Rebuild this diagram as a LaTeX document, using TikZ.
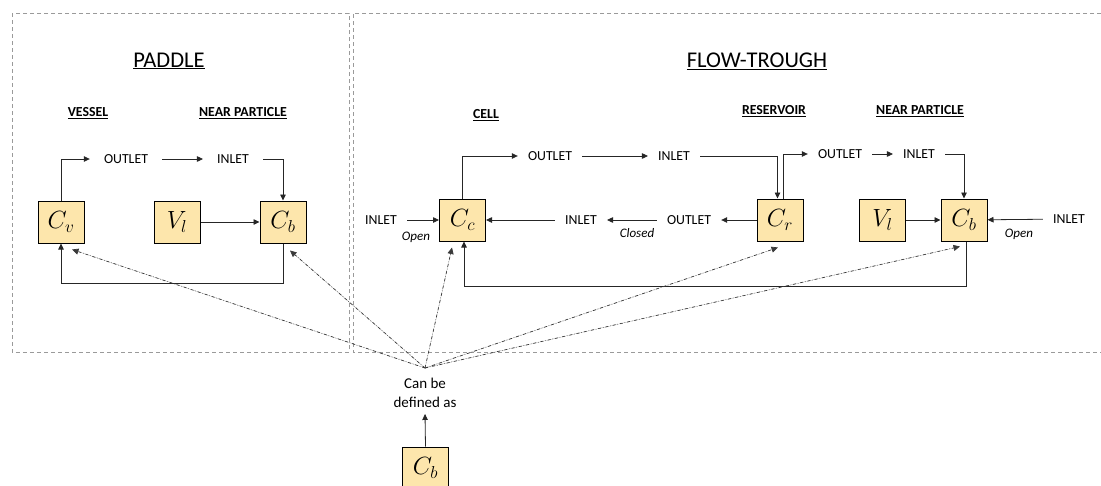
\documentclass[tikz,border=0pt]{standalone}
\usepackage{fontspec}
\setmainfont{Carlito}
\usetikzlibrary{arrows.meta}
\definecolor{boxfill}{HTML}{FDE6AC}
\definecolor{dashgray}{HTML}{9A9A9A}
\definecolor{defgray}{HTML}{3A3A3A}
\begin{document}
\begin{tikzpicture}[x=1pt,y=-1pt,
  var/.style={draw, line width=1pt, fill=boxfill, minimum width=46pt, minimum height=42pt, inner sep=0pt, font=\fontsize{26}{26}\selectfont},
  lbl/.style={font=\fontsize{13.8}{15}\selectfont, inner xsep=10pt, inner ysep=2pt},
  lbll/.style={lbl, inner xsep=14pt},
  hdr/.style={font=\bfseries\fontsize{13.8}{15}\selectfont},
  ttl/.style={font=\fontsize{22.5}{24}\selectfont},
  note/.style={font=\itshape\fontsize{13}{14}\selectfont},
  flow/.style={-{Triangle[length=6pt,width=5.5pt]}, line width=0.8pt, draw=black!85},
  defn/.style={-{Triangle[length=6.5pt,width=6pt]}, dash dot, line width=0.7pt, draw=defgray, fill=defgray},
  panel/.style={draw=dashgray, dash pattern=on 4pt off 3pt, line width=0.7pt}]
\useasboundingbox (0,0) rectangle (1101,485);

% panels
\draw[panel] (12,13) rectangle (349,352);
\draw[panel] (1101,13) -- (353,13) -- (353,352) -- (1101,352);

% titles and headers
\node[ttl] (tpad) at (169,61) {\underline{PADDLE}};
\node[ttl] (tflow) at (757,61) {\underline{FLOW-TROUGH}};
\node[hdr] (hves) at (88,113) {\underline{VESSEL}};
\node[hdr] (hnp1) at (243,113) {\underline{NEAR PARTICLE}};
\node[hdr] (hcell) at (486,115) {\underline{CELL}};
\node[hdr] (hres) at (774,111) {\underline{RESERVOIR}};
\node[hdr] (hnp2) at (920,111) {\underline{NEAR PARTICLE}};

% paddle
\node[var] (cv) at (61,222) {$C_v$};
\node[var] (vl1) at (177,222) {$V_l$};
\node[var] (cb1) at (283,222) {$C_b$};
\node[lbll] (o1) at (126,159) {OUTLET};
\node[lbll] (i1) at (233,159) {INLET};
\coordinate (fb1) at (0,283);
\draw[flow] (cv.north) |- (o1.west);
\draw[flow] (o1) -- (i1);
\draw[flow] (i1.east) -| (cb1.north);
\draw[flow] (vl1) -- (cb1);
\draw[flow] (cb1.south) -- (cb1.south |- fb1) -| (cv.south);

% flow-through
\node[var] (cc) at (462.5,220) {$C_c$};
\node[var] (cr) at (780,220) {$C_r$};
\node[var] (vl2) at (882.5,220) {$V_l$};
\node[var] (cb2) at (964,220) {$C_b$};
\node[lbl] (o2) at (550,156) {OUTLET};
\node[lbl] (i2) at (674,156) {INLET};
\node[lbl] (o3) at (840,154) {OUTLET};
\node[lbl] (i3) at (919,154) {INLET};
\node[lbl] (in0) at (381,220) {INLET};
\node[lbl] (i4) at (581,220) {INLET};
\node[lbl] (o4) at (689,220) {OUTLET};
\node[lbl] (in5) at (1069,219) {INLET};
\node[note] (op1) at (416,237) {Open};
\node[note] (cl1) at (637,233) {Closed};
\node[note] (op2) at (1019,234) {Open};
\coordinate (fb2) at (0,286);
\draw[flow] (cc.north) |- (o2.west);
\draw[flow] (o2) -- (i2);
\draw[flow] (i2.east) -| ([xshift=-2.5pt]cr.north);
\draw[flow] ([xshift=3pt]cr.north) |- (o3.west);
\draw[flow] (o3) -- (i3);
\draw[flow] (i3.east) -| (cb2.north);
\draw[flow] (vl2) -- (cb2);
\draw[flow] (in5) -- (cb2);
\draw[flow] (in0) -- (cc);
\draw[flow] (cr) -- (o4);
\draw[flow] (o4) -- (i4);
\draw[flow] (i4) -- (cc);
\draw[flow] ([xshift=2pt]cb2.south) -- ([xshift=2pt]cb2.south |- fb2) -| ([xshift=1.5pt]cc.south);

% definition
\coordinate (hub) at (425,368);
\node[font=\fontsize{15}{19}\selectfont, align=center, inner ysep=6pt] (cbd) at (425,393) {Can be\\defined as};
\node[var] (cb3) at (425.5,468) {$C_b$};
\draw[flow] (cb3.north) -- (cbd.south);
\draw[defn] (hub) -- ([xshift=11pt,yshift=-6pt]cv.south);
\draw[defn] (hub) -- ([xshift=7pt,yshift=-7pt]cb1.south);
\draw[defn] (hub) -- ([xshift=-10.5pt,yshift=-6pt]cc.south);
\draw[defn] (hub) -- ([xshift=-2pt,yshift=-6pt]cr.south);
\draw[defn] (hub) -- ([xshift=-4pt,yshift=-5pt]cb2.south);
\end{tikzpicture}
\end{document}
